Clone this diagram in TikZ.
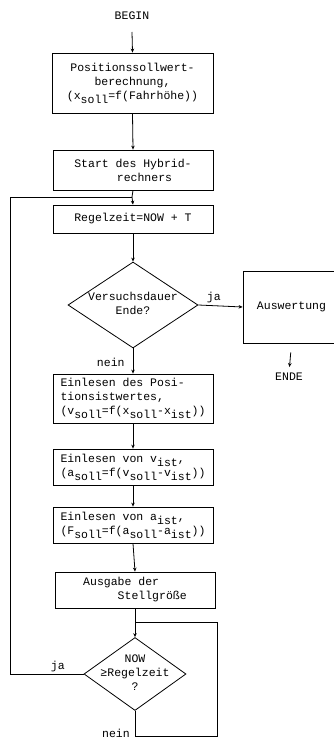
\documentclass[tikz,border=0pt]{standalone}
\usepackage{fontspec}
\setmainfont{Liberation Mono}
\usetikzlibrary{shapes.geometric,arrows.meta}
\newcommand{\sbs}[1]{\raisebox{-4pt}{#1}}
\begin{document}
\begin{tikzpicture}[x=1pt,y=-1pt,
  every node/.style={font=\fontsize{11.5}{14}\selectfont, inner sep=0pt},
  proc/.style={draw, rectangle, line width=0.8pt},
  dia/.style={draw, diamond, line width=0.8pt, inner sep=0pt},
  flow/.style={line width=0.8pt, -{Stealth[length=4pt,width=3.5pt]}},
  line/.style={line width=0.8pt},
  lbl/.style={font=\fontsize{11.5}{14}\selectfont}]
\useasboundingbox (0,0) rectangle (333,738);
\node (begin) at (132,16) {BEGIN};
\node[proc, minimum width=161pt, minimum height=60pt, align=center] (b1) at (132.5,83)
  {Positionssollwert-\\berechnung,\\(x\sbs{soll}=f(Fahrhöhe))};
\node[proc, minimum width=160pt, minimum height=40pt, align=center] (b2) at (133,170)
  {Start des Hybrid-\\\hspace*{2em}rechners};
\node[proc, minimum width=160pt, minimum height=28pt] (b3) at (133,219)
  {Regelzeit=NOW + T};
\node[dia, minimum width=130pt, minimum height=86pt] (d1) at (133,305)
  {\makebox[0pt]{\smash{\raisebox{-3pt}{\begin{tabular}{@{}c@{}}Versuchsdauer\\Ende?\end{tabular}}}}};
\node[proc, minimum width=97pt, minimum height=72pt] (aus) at (291.5,307)
  {Auswertung};
\node (ende) at (289,377) {ENDE};
\node[proc, minimum width=160pt, minimum height=49pt, align=left] (b4) at (133,398.5)
  {Einlesen des Posi-\\tionsistwertes,\\(v\sbs{soll}=f(x\sbs{soll}-x\sbs{ist}))};
\node[proc, minimum width=160pt, minimum height=36pt, align=left] (b5) at (133,467)
  {Einlesen von v\sbs{ist},\\(a\sbs{soll}=f(v\sbs{soll}-v\sbs{ist}))};
\node[proc, minimum width=160pt, minimum height=36pt, align=left] (b6) at (133,525)
  {Einlesen von a\sbs{ist},\\(F\sbs{soll}=f(a\sbs{soll}-a\sbs{ist}))};
\node[proc, minimum width=160pt, minimum height=36pt, align=left] (b7) at (135,590)
  {Ausgabe der\\\hspace*{3em}Stellgröße};
\node[dia, minimum width=102pt, minimum height=73pt] (d2) at (135,674)
  {\makebox[0pt]{\smash{\raisebox{-3pt}{\begin{tabular}{@{}c@{}}NOW\\≥Regelzeit\\?\end{tabular}}}}};
\coordinate (j1) at (132,197);
\coordinate (j2) at (135,622);
% connectors
\draw[flow] (begin) ++(0,16) coordinate (bs) (bs) -- (b1.north);
\draw[flow] (b1.south) -- (b2.north);
\draw[line] (b2.south) -- (j1);
\draw[flow] (j1) -- (b3.north);
\draw[flow] (b3.south) -- (d1.north);
\draw[flow] (d1.east) -- node[lbl, above, pos=0.35, yshift=2pt] {ja} (aus.west);
\draw[flow, shorten <=9pt, shorten >=6pt] (aus.south) -- (ende.north);
\draw[flow] (d1.south) -- node[lbl, left, pos=0.55, xshift=-8pt] {nein} (b4.north);
\draw[flow] (b4.south) -- (b5.north);
\draw[flow] (b5.south) -- (b6.north);
\draw[flow] (b6.south) -- (b7.north);
\draw[line] (b7.south) -- (j2);
\draw[flow] (j2) -- (d2.north);
\draw[line] (d2.west) -- node[lbl, above, pos=0.35, yshift=2pt] {ja} (10,674) -- (10,197) -- (j1);
\draw[line] (d2.south) -- (135,736) -- (217,736) -- (217,622) -- (j2);
\node[lbl, anchor=east] at (130,733) {nein};
\end{tikzpicture}
\end{document}
